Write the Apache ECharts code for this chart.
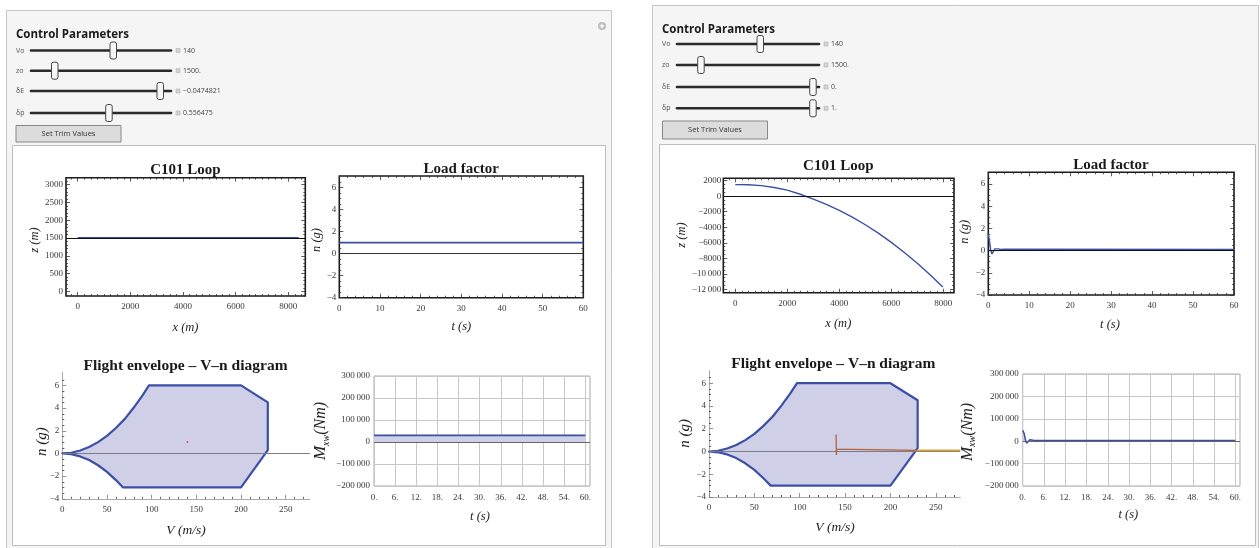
<!DOCTYPE html>
<html><head><meta charset="utf-8">
<script src="https://cdn.jsdelivr.net/npm/echarts@6/dist/echarts.min.js"></script>
<style>html,body{margin:0;padding:0;background:#fff;}#c{width:1260px;height:548px;}</style>
</head><body><div id="c"></div>
<script>
// ---------- data ----------
// left panel (trim state)
const loopTrimX = [0, 8400];
const loopTrimZ = [1500, 1500];
const loadTrimT = [0, 60];
const loadTrimN = [1, 1];
const mxwTrimT = [0, 60];
const mxwTrimM = [30000, 30000];
const envTrimPointV = [140];
const envTrimPointN = [1];
// right panel (dive)
const loopDiveX = [0, 500, 1000, 1500, 2000, 2500, 3000, 3500, 4000, 4500, 5000, 5500, 6000, 6500, 7000, 7500, 7980];
const loopDiveZ = [1500, 1470, 1360, 1130, 780, 250, -370, -1050, -1820, -2700, -3680, -4760, -5950, -7250, -8650, -10150, -11700];
const loadDiveT = [0, 0.3, 0.6, 0.9, 1.2, 1.6, 2.0, 2.5, 3, 4, 60];
const loadDiveN = [1.5, 0.8, 0.0, -0.3, -0.15, 0.15, 0.22, 0.15, 0.1, 0.12, 0.1];
const mxwDiveT = [0, 0.4, 0.8, 1.1, 1.5, 2.0, 2.5, 3, 4, 60];
const mxwDiveM = [48000, 35000, 5000, -9000, -4000, 6000, 7000, 4000, 3500, 3000];
const envDiveInV = [140, 140.2, 140.4, 140.8, 141.5, 143, 229];
const envDiveInN = [1.5, 0.8, -0.3, 0.2, 0.15, 0.12, 0.1];
const envDiveOutV = [229, 277];
const envDiveOutN = [0.1, 0.1];
// flight envelope boundary
const envV = [0, 10, 20, 30, 40, 50, 60, 70, 80, 90, 97, 200, 230, 230, 200, 68, 60, 50, 40, 30, 20, 10, 0];
const envN = [0, 0.06, 0.26, 0.57, 1.0, 1.55, 2.25, 3.05, 4.05, 5.15, 6.0, 6.0, 4.5, 0.3, -3, -3, -2.35, -1.62, -1.04, -0.58, -0.26, -0.07, 0];
// ticks
const loopXTicks = [0, 2000, 4000, 6000, 8000];
const loopXMinor = [-250, 250, 500, 750, 1000, 1250, 1500, 1750, 2250, 2500, 2750, 3000, 3250, 3500, 3750, 4250, 4500, 4750, 5000, 5250, 5500, 5750, 6250, 6500, 6750, 7000, 7250, 7500, 7750, 8250, 8500];
const loopTrimZTicks = [0, 500, 1000, 1500, 2000, 2500, 3000];
const loopTrimZMinor = [-100, 100, 200, 300, 400, 600, 700, 800, 900, 1100, 1200, 1300, 1400, 1600, 1700, 1800, 1900, 2100, 2200, 2300, 2400, 2600, 2700, 2800, 2900, 3100];
const loopDiveZTicks = [2000, 0, -2000, -4000, -6000, -8000, -10000, -12000];
const loopDiveZMinor = [1500, 1000, 500, -500, -1000, -1500, -2500, -3000, -3500, -4500, -5000, -5500, -6500, -7000, -7500, -8500, -9000, -9500, -10500, -11000, -11500, -12500];
const tTicks = [0, 10, 20, 30, 40, 50, 60];
const tMinor = [2, 4, 6, 8, 12, 14, 16, 18, 22, 24, 26, 28, 32, 34, 36, 38, 42, 44, 46, 48, 52, 54, 56, 58];
const nTicks = [-4, -2, 0, 2, 4, 6];
const nMinor = [-3.5, -3, -2.5, -1.5, -1, -0.5, 0.5, 1, 1.5, 2.5, 3, 3.5, 4.5, 5, 5.5, 6.5];
const vTicks = [0, 50, 100, 150, 200, 250];
const vMinor = [10, 20, 30, 40, 60, 70, 80, 90, 110, 120, 130, 140, 160, 170, 180, 190, 210, 220, 230, 240, 260, 270];
const mxwTTicks = [0, 6, 12, 18, 24, 30, 36, 42, 48, 54, 60];
const mxwMTicks = [-200000, -100000, 0, 100000, 200000, 300000];
// control values
const sliderNames = ['Vo', 'zo', 'δE', 'δp'];
const leftSliderValues = ['140', '1500.', '\u22120.0474821', '0.556475'];
const rightSliderValues = ['140', '1500.', '0.', '1.'];

// ---------- helpers ----------
const zip = (a, b) => a.map((v, i) => [v, b[i]]);
function fmt(v) {
  const s = Math.abs(v);
  let t = String(s);
  if (s >= 10000) t = t.replace(/\B(?=(\d{3})+(?!\d))/g, '\u2009');
  return (v < 0 ? '\u2212' : '') + t;
}
const SERIF = '"Liberation Serif", "DejaVu Serif", serif';
const SANS = '"Open Sans", "Noto Sans", sans-serif';
const BLUE = '#3b4fa6';
const FILL = '#cfcfe7';

const grids = [], xAxes = [], yAxes = [], series = [], G = [];

function addGrid(l, t, w, h, frame, bw) {
  grids.push({ left: l, top: t, width: w, height: h, containLabel: false,
    show: !!frame, borderColor: frame || '#000', borderWidth: frame ? bw : 0,
    backgroundColor: 'transparent' });
  return grids.length - 1;
}
function axis(list, gi, pos, min, max, ticks, len, label, extra) {
  const a = {
    type: 'value', gridIndex: gi, position: pos, min: min, max: max,
    axisLine: { show: false, onZero: false },
    axisTick: { show: true, inside: true, length: len, customValues: ticks, lineStyle: { color: '#333', width: 0.8 } },
    axisLabel: label ? Object.assign({ show: true, customValues: ticks, fontFamily: SERIF, fontSize: 9, color: '#3a3a3a', formatter: fmt }, label) : { show: false },
    splitLine: { show: false }
  };
  if (extra) Object.assign(a, extra);
  list.push(a);
  return list.length - 1;
}
// framed plot with ticks on four sides
function framePlot(l, t, w, h, xr, yr, xt, xm, yt, ym, xm1, ym1) {
  const gi = addGrid(l, t, w, h, '#1a1a1a', 1.6);
  const xi = axis(xAxes, gi, 'bottom', xr[0], xr[1], xt, 4, { margin: xm1 });
  axis(xAxes, gi, 'bottom', xr[0], xr[1], xm, 2);
  axis(xAxes, gi, 'top', xr[0], xr[1], xt, 4);
  axis(xAxes, gi, 'top', xr[0], xr[1], xm, 2);
  const yi = axis(yAxes, gi, 'left', yr[0], yr[1], yt, 4, { margin: ym1 });
  axis(yAxes, gi, 'left', yr[0], yr[1], ym, 2);
  axis(yAxes, gi, 'right', yr[0], yr[1], yt, 4);
  axis(yAxes, gi, 'right', yr[0], yr[1], ym, 2);
  return [xi, yi];
}
function envPlot(l, t, w, h, ymax) {
  const gi = addGrid(l, t, w, h, null, 0);
  const xi = axis(xAxes, gi, 'bottom', 0, 277, vTicks, 4, { margin: 6 },
    { axisLine: { show: true, onZero: false, lineStyle: { color: '#aaa', width: 1 } } });
  axis(xAxes, gi, 'bottom', 0, 277, vMinor, 2);
  const yi = axis(yAxes, gi, 'left', -4, ymax, nTicks, 4, { margin: 3 },
    { axisLine: { show: true, onZero: false, lineStyle: { color: '#aaa', width: 1 } } });
  axis(yAxes, gi, 'left', -4, ymax, nMinor, 2);
  xAxes[xi].axisTick.lineStyle.color = '#777';
  yAxes[yi].axisTick.lineStyle.color = '#777';
  return [xi, yi];
}
function mxwPlot(l, t, w, h) {
  const gi = addGrid(l, t, w, h, '#aaa', 1);
  const xi = axis(xAxes, gi, 'bottom', 0, 61.3, mxwTTicks, 0, { margin: 7, formatter: v => fmt(v) + '.' },
    { splitLine: { show: true, lineStyle: { color: '#c8c8c8', width: 1 } } });
  const yi = axis(yAxes, gi, 'left', -200000, 300000, mxwMTicks, 0, { margin: 4 },
    { splitLine: { show: true, lineStyle: { color: '#c8c8c8', width: 1 } } });
  xAxes[xi].axisTick.show = false; yAxes[yi].axisTick.show = false;
  return [xi, yi];
}
function hline(ax, val, color, w) {
  return { type: 'line', xAxisIndex: ax[0], yAxisIndex: ax[1], data: [], silent: true,
    markLine: { silent: true, symbol: 'none', label: { show: false }, animation: false,
      lineStyle: { color: color, width: w, type: 'solid' }, data: [{ yAxis: val }] } };
}
function lineS(ax, data, color, w, area, z) {
  const s = { type: 'line', xAxisIndex: ax[0], yAxisIndex: ax[1], data: data, showSymbol: false, symbol: 'none',
    lineStyle: { color: color, width: w }, itemStyle: { color: color }, animation: false, silent: true, z: z || 3 };
  if (area) s.areaStyle = { color: FILL, opacity: 1 };
  return s;
}
function envelope(ax) {
  return { type: 'custom', xAxisIndex: ax[0], yAxisIndex: ax[1], coordinateSystem: 'cartesian2d', data: [[0, 0]], silent: true, animation: false, z: 2,
    renderItem: (p, api) => ({ type: 'polygon', shape: { points: envV.map((v, i) => api.coord([v, envN[i]])) },
      style: { fill: FILL, stroke: BLUE, lineWidth: 2.2, lineJoin: 'round' } }) };
}

// ---------- panels (graphics) ----------
function txt(x, y, text, font, color, align, rot, rich) {
  const e = { type: 'text', x: x, y: y, rotation: rot || 0, z: 50, silent: true,
    style: { text: text, font: font, fill: color || '#222', align: align || 'left', verticalAlign: 'middle',
      textAlign: align || 'left', textVerticalAlign: 'middle' } };
  if (rich) e.style.rich = rich;
  G.push(e);
}
function rect(x, y, w, h, fill, stroke, lw, r, z) {
  G.push({ type: 'rect', shape: { x: x, y: y, width: w, height: h, r: r || 0 }, z: z === undefined ? -10 : z, silent: true,
    style: { fill: fill, stroke: stroke || null, lineWidth: lw || 0 } });
}
function controls(px, titleY, rows, trackX0, trackX1, thumbs, sqX, values, btn) {
  txt(px, titleY, 'Control Parameters', 'bold 11.5px ' + SANS, '#1a1a1a');
  rows.forEach((y, i) => {
    txt(px, y, sliderNames[i], '7px ' + SANS, '#555');
    G.push({ type: 'line', shape: { x1: trackX0, y1: y, x2: trackX1, y2: y }, z: 20, silent: true,
      style: { stroke: '#2a2a2a', lineWidth: 2.6, lineCap: 'round' } });
    rect(thumbs[i] - 3, y - 8.5, 6.5, 17, '#f7f7f7', '#444', 1, 2, 21);
    rect(sqX - 2, y - 2, 4, 4, '#d4d4d4', '#b0b0b0', 0.6, 0, 21);
    txt(sqX + 5, y, values[i], '7px ' + SANS, '#444');
  });
  rect(btn[0], btn[1], btn[2], btn[3], '#dcdcdc', '#888', 1, 0, 20);
  txt(btn[0] + btn[2] / 2, btn[1] + btn[3] / 2, 'Set Trim Values', '7.5px ' + SANS, '#333', 'center');
}
// left panel boxes
rect(6.5, 10.5, 605, 560, '#f4f5f4', '#c6c6c6', 1);
rect(12.5, 145.5, 593, 400, '#ffffff', '#bdbdbd', 1);
G.push({ type: 'circle', shape: { cx: 602, cy: 26, r: 4 }, z: 20, silent: true, style: { fill: '#bdbdbd' } });
G.push({ type: 'line', shape: { x1: 599.8, y1: 26, x2: 604.2, y2: 26 }, z: 21, silent: true, style: { stroke: '#fff', lineWidth: 1.2 } });
G.push({ type: 'line', shape: { x1: 602, y1: 23.8, x2: 602, y2: 28.2 }, z: 21, silent: true, style: { stroke: '#fff', lineWidth: 1.2 } });
// right panel boxes
rect(652.5, 5.5, 606, 560, '#f4f5f4', '#c6c6c6', 1);
rect(659.5, 144.5, 596, 401, '#ffffff', '#bdbdbd', 1);

controls(16, 35, [50.5, 70.7, 91, 113], 31, 171, [113, 54.5, 160, 108.7], 178, leftSliderValues, [16, 125.5, 105, 16.5]);
controls(662, 29.5, [44, 65, 87, 108.3], 677, 819, [760, 700.7, 812.7, 812.7], 826, rightSliderValues, [662.5, 121, 105, 18]);

// ---------- plots ----------
// left
const aLoopL = framePlot(66, 177.7, 239.3, 118.3, [-444, 8646], [-132, 3197], loopXTicks, loopXMinor, loopTrimZTicks, loopTrimZMinor, 6, 3);
const aLoadL = framePlot(339.3, 176, 244, 121.7, [0, 60], [-4, 7.06], tTicks, tMinor, nTicks, nMinor, 6, 3);
const aEnvL = envPlot(62.3, 372.4, 247.5, 126.4, 7.15);
const aMxwL = mxwPlot(374, 376, 216, 110);
// right
const aLoopR = framePlot(723.3, 178.3, 230.7, 114.4, [-461, 8411], [-12438, 2309], loopXTicks, loopXMinor, loopDiveZTicks, loopDiveZMinor, 6, 2);
const aLoadR = framePlot(988.3, 172.3, 245.7, 122.7, [0, 60], [-4, 7.05], tTicks, tMinor, nTicks, nMinor, 6, 3);
const aEnvR = envPlot(709, 370.7, 251.3, 126.3, 7.1);
const aMxwR = mxwPlot(1022.7, 374, 217.3, 112);

// left series
series.push(lineS(aLoopL, zip(loopTrimX, loopTrimZ), BLUE, 1.8));
series.push(hline(aLoopL, 1500, '#111', 1));
series.push(lineS(aLoadL, zip(loadTrimT, loadTrimN), BLUE, 1.8));
series.push(hline(aLoadL, 0, '#333', 1.2));
series.push(envelope(aEnvL));
series.push(hline(aEnvL, 0, '#7a7a8a', 1));
series.push({ type: 'scatter', xAxisIndex: aEnvL[0], yAxisIndex: aEnvL[1], data: zip(envTrimPointV, envTrimPointN), symbolSize: 2, itemStyle: { color: '#e04040' }, silent: true, animation: false, z: 6 });
series.push(lineS(aMxwL, zip(mxwTrimT, mxwTrimM), BLUE, 1.6, true));
series.push(hline(aMxwL, 0, '#666', 1));
// right series
series.push(lineS(aLoopR, zip(loopDiveX, loopDiveZ), BLUE, 1.4));
series.push(hline(aLoopR, 0, '#111', 1.2));
series.push(lineS(aLoadR, zip(loadDiveT, loadDiveN), BLUE, 1.4));
series.push(hline(aLoadR, 0, '#111', 1.2));
series.push(envelope(aEnvR));
series.push(hline(aEnvR, 0, '#7a7a8a', 1));
series.push(lineS(aEnvR, zip(envDiveInV, envDiveInN), '#b4623e', 1.3, false, 5));
series.push(lineS(aEnvR, zip(envDiveOutV, envDiveOutN), '#e0a030', 1.6, false, 5));
series.push(lineS(aMxwR, zip(mxwDiveT, mxwDiveM), BLUE, 1.5, true));
series.push(hline(aMxwR, 0, '#666', 1));

// ---------- titles & axis names ----------
const TF = 'bold 15px ' + SERIF;
const EF = 'bold 15.5px ' + SERIF;
const LF = 'italic 12.5px ' + SERIF;
const BF = 'italic 15px ' + SERIF;
const mxwRich = {
  m: { font: 'italic 17px ' + SERIF, fill: '#222', lineHeight: 20 },
  s: { font: 'italic 10px ' + SERIF, fill: '#222', lineHeight: 20, verticalAlign: 'bottom', padding: [7, 0, 0, 0] },
  n: { font: 'italic 16px ' + SERIF, fill: '#222', lineHeight: 20 }
};
// left
txt(185.5, 170, 'C101 Loop', TF, '#1a1a1a', 'center');
txt(35, 240, 'z (m)', LF, '#222', 'center', Math.PI / 2);
txt(185.5, 328, 'x (m)', LF, '#222', 'center');
txt(461.3, 169, 'Load factor', TF, '#1a1a1a', 'center');
txt(317, 240, 'n (g)', LF, '#222', 'center', Math.PI / 2);
txt(461.3, 327, 't (s)', LF, '#222', 'center');
txt(185.5, 366, 'Flight envelope \u2013 V\u2013n diagram', EF, '#1a1a1a', 'center');
txt(41.7, 441.7, 'n (g)', BF, '#222', 'center', Math.PI / 2);
txt(186, 530, 'V (m/s)', 'italic 13.5px ' + SERIF, '#222', 'center');
txt(321, 431, '{m|M}{s|xw}{n|(Nm)}', '14px ' + SERIF, '#222', 'center', Math.PI / 2, mxwRich);
txt(480, 517, 't (s)', LF, '#222', 'center');
// right
txt(838.3, 166, 'C101 Loop', TF, '#1a1a1a', 'center');
txt(681.7, 235, 'z (m)', LF, '#222', 'center', Math.PI / 2);
txt(838.3, 323.3, 'x (m)', LF, '#222', 'center');
txt(1111, 165, 'Load factor', TF, '#1a1a1a', 'center');
txt(965, 231.7, 'n (g)', LF, '#222', 'center', Math.PI / 2);
txt(1110, 325, 't (s)', LF, '#222', 'center');
txt(833.3, 364, 'Flight envelope \u2013 V\u2013n diagram', EF, '#1a1a1a', 'center');
txt(685, 433.3, 'n (g)', BF, '#222', 'center', Math.PI / 2);
txt(835, 527.3, 'V (m/s)', 'italic 13.5px ' + SERIF, '#222', 'center');
txt(967.3, 432, '{m|M}{s|xw}{n|(Nm)}', '14px ' + SERIF, '#222', 'center', Math.PI / 2, mxwRich);
txt(1128.3, 515, 't (s)', LF, '#222', 'center');

const chart = echarts.init(document.getElementById('c'), null, { renderer: 'canvas' });
chart.setOption({
  animation: false,
  backgroundColor: '#ffffff',
  grid: grids, xAxis: xAxes, yAxis: yAxes, series: series,
  graphic: { elements: G }
});
</script></body></html>
